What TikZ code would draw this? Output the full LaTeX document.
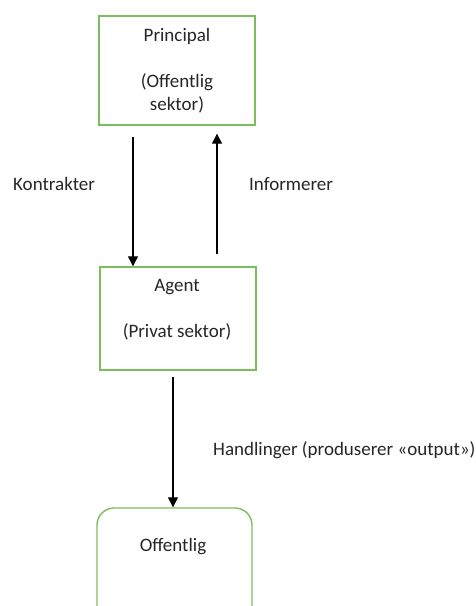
\documentclass[tikz,border=0pt]{standalone}
\usepackage{fontspec}
\setmainfont{Carlito}
\usetikzlibrary{arrows.meta}
\definecolor{boxgreen}{HTML}{7DBE5C}
\tikzset{
  box/.style={draw=boxgreen, line width=1.4pt, fill=white, inner sep=0pt},
  lbl/.style={inner sep=0pt, font=\fontsize{19}{23}\selectfont, text=black!85},
  conn/.style={line width=1.2pt, -{Triangle[length=10pt,width=10pt]}}
}
\begin{document}
\begin{tikzpicture}[x=1pt,y=-1pt]
\useasboundingbox (0,0) rectangle (476,606);
\clip (0,0) rectangle (476,606);
\node[box, minimum width=156pt, minimum height=109pt] (principal) at (177,70.5) {};
\node[lbl, align=center] (ptxt) at (177,70.5) {Principal\\[0pt]\strut\\(Offentlig\\sektor)};
\node[box, minimum width=156pt, minimum height=103pt] (agent) at (178,318.5) {};
\node[lbl] (atxt1) at (177,287) {Agent};
\node[lbl] (atxt2) at (177,332) {(Privat sektor)};
\node[box, rounded corners=17pt, minimum width=155pt, minimum height=120pt] (off) at (174.5,568) {};
\node[lbl] (otxt) at (173,547) {Offentlig};
\coordinate (k1) at (133,137);
\coordinate (i1) at (217,254);
\coordinate (h1) at (173,377);
\draw[conn] (k1) -- (k1 |- agent.north);
\draw[conn] (i1) -- ([yshift=-8pt]i1 |- principal.south);
\draw[conn] (h1) -- (h1 |- off.north);
\node[lbl, anchor=west] (kon) at (13,184) {Kontrakter};
\node[lbl, anchor=west] (inf) at (249,184) {Informerer};
\node[lbl, anchor=west] (han) at (213,450) {Handlinger (produserer «output»)};
\end{tikzpicture}
\end{document}
